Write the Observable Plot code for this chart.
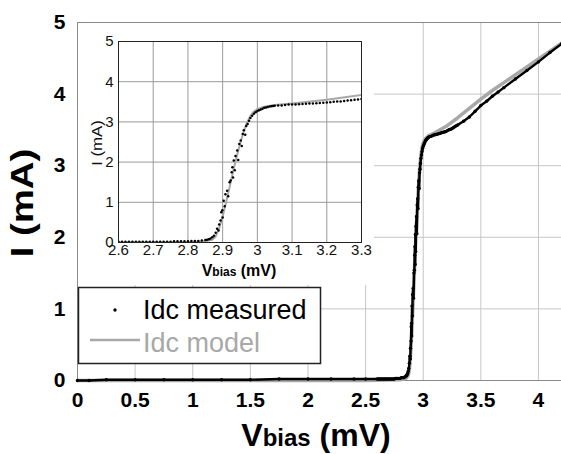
<!DOCTYPE html>
<html><head><meta charset="utf-8">
<script src="https://cdn.jsdelivr.net/npm/d3@7"></script>
<script src="https://cdn.jsdelivr.net/npm/@observablehq/plot@0.6"></script>
<style>
body{margin:0;background:#fff;}
#wrap{position:relative;width:561px;height:454px;overflow:hidden;font-family:"Liberation Sans",Arial,sans-serif;}
#wrap > svg{position:absolute;}
</style></head><body><div id="wrap"></div>
<script>
// ---- data ----
// Measured Idc (mA) vs Vbias (mV)
const measV = [
  0, 0.1, 0.25, 0.5, 0.75, 1.0, 1.25, 1.5, 1.75, 2.0, 2.2, 2.4, 2.5,
  2.60, 2.61, 2.62, 2.63, 2.64, 2.65, 2.66, 2.67, 2.68, 2.69, 2.70, 2.71, 2.72, 2.73, 2.74, 2.75,
  2.76, 2.77, 2.78, 2.79, 2.80, 2.81, 2.82, 2.83, 2.84, 2.85,
  2.855, 2.86, 2.865, 2.87, 2.875, 2.88, 2.884, 2.888, 2.89, 2.894,
  2.896, 2.899, 2.9, 2.903, 2.906, 2.908, 2.913, 2.916, 2.92, 2.923,
  2.926, 2.928, 2.93, 2.932, 2.935, 2.937, 2.942, 2.945, 2.948, 2.952,
  2.955, 2.958, 2.961, 2.965, 2.968, 2.972, 2.976, 2.98, 2.985, 2.99,
  2.995, 3.0, 3.005, 3.01, 3.015, 3.02, 3.025, 3.03, 3.035, 3.04,
  3.045,
  3.05, 3.06, 3.07, 3.08, 3.09, 3.10, 3.11, 3.12, 3.13, 3.14,
  3.15, 3.16, 3.17, 3.18, 3.19, 3.20, 3.21, 3.22, 3.23, 3.24,
  3.25, 3.26, 3.27, 3.28, 3.29, 3.30,
  3.35, 3.4, 3.45, 3.5, 3.55, 3.6, 3.65, 3.7, 3.8, 3.9, 4.0, 4.1, 4.2
];
const measI = [
  0.00, 0.00, 0.01, 0.01, 0.01, 0.01, 0.01, 0.01, 0.02, 0.02, 0.02, 0.02, 0.02,
  0.02, 0.02, 0.02, 0.02, 0.02, 0.02, 0.02, 0.02, 0.02, 0.02, 0.02, 0.02, 0.02, 0.02, 0.02, 0.02,
  0.03, 0.03, 0.03, 0.03, 0.03, 0.04, 0.04, 0.04, 0.05, 0.06,
  0.07, 0.08, 0.10, 0.13, 0.17, 0.24, 0.34, 0.30, 0.45, 0.55,
  0.75, 0.80, 0.62, 1.04, 0.90, 1.20, 1.29, 1.15, 1.50, 1.54,
  1.75, 1.87, 1.62, 2.04, 1.80, 2.15, 2.29, 2.05, 2.45, 2.54,
  2.40, 2.70, 2.79, 2.68, 2.90, 2.95, 3.03, 3.10, 3.15, 3.20,
  3.24, 3.27, 3.29, 3.31, 3.33, 3.35, 3.36, 3.37, 3.38, 3.39,
  3.395,
  3.40, 3.41, 3.41, 3.42, 3.43, 3.43, 3.435, 3.44, 3.445, 3.45,
  3.455, 3.46, 3.465, 3.47, 3.475, 3.48, 3.49, 3.50, 3.505, 3.51,
  3.52, 3.53, 3.54, 3.55, 3.56, 3.57,
  3.62, 3.68, 3.76, 3.84, 3.90, 3.97, 4.03, 4.09, 4.21, 4.33, 4.45, 4.58, 4.70
];
// Model Idc
const modelV = [0, 1, 2, 2.5, 2.8, 2.85, 2.87, 2.88, 2.89, 2.9, 2.91, 2.92, 2.93, 2.94, 2.95, 2.96, 2.97, 2.98, 2.99,
  3.0, 3.02, 3.05, 3.1, 3.2, 3.3, 3.4, 3.5, 3.6, 3.7, 3.8, 3.9, 4.0, 4.1, 4.2];
const modelI = [0, 0, 0, 0, 0.01, 0.03, 0.07, 0.15, 0.35, 0.65, 1.0, 1.38, 1.76, 2.12, 2.45, 2.74, 2.98, 3.15, 3.26,
  3.32, 3.38, 3.42, 3.46, 3.55, 3.67, 3.80, 3.93, 4.05, 4.16, 4.27, 4.38, 4.49, 4.60, 4.71];

// ticks
const mainXTicks = [0, 0.5, 1, 1.5, 2, 2.5, 3, 3.5, 4];
const mainXLabels = ["0", "0.5", "1", "1.5", "2", "2.5", "3", "3.5", "4"];
const mainYTicks = [0, 1, 2, 3, 4, 5];
const mainYLabels = ["0", "1", "2", "3", "4", "5"];
const insetXTicks = [2.6, 2.7, 2.8, 2.9, 3.0, 3.1, 3.2, 3.3];
const insetXLabels = ["2.6", "2.7", "2.8", "2.9", "3", "3.1", "3.2", "3.3"];
const insetYTicks = [0, 1, 2, 3, 4, 5];
const insetYLabels = ["0", "1", "2", "3", "4", "5"];
const seriesNames = ["Idc measured", "Idc model"];

const meas = measV.map((v, k) => ({v, i: measI[k]}));
const model = modelV.map((v, k) => ({v, i: modelI[k]}));
const FONT = "Liberation Sans, Arial, sans-serif";
const lab = (ticks, labels) => d => labels[ticks.findIndex(t => Math.abs(t - d) < 1e-9)];

const wrap = document.getElementById("wrap");

const main = Plot.plot({
  width: 561, height: 454,
  marginLeft: 77, marginRight: 0, marginTop: 22, marginBottom: 74,
  style: {background: "white", fontFamily: FONT, color: "black", overflow: "visible"},
  x: {domain: [0, 4.2]},
  y: {domain: [0, 5]},
  marks: [
    Plot.gridX(mainXTicks.slice(1), {stroke: "#c6c6c6", strokeOpacity: 1}),
    Plot.gridY(mainYTicks.slice(1, 5), {stroke: "#c6c6c6", strokeOpacity: 1}),
    Plot.ruleX([0], {stroke: "#8a8a8a"}),
    Plot.ruleY([5], {stroke: "#8a8a8a"}),
    Plot.ruleY([0], {stroke: "#8a8a8a"}),
    Plot.line(model, {x: "v", y: "i", stroke: "#a8a8a8", strokeWidth: 3.5}),
    Plot.line(meas, {x: "v", y: "i", stroke: "black", strokeWidth: 2.4}),
    Plot.dot(meas, {x: "v", y: "i", r: 1.7, fill: "black", stroke: null}),
    Plot.axisX(mainXTicks, {tickSize: 0, tickPadding: 12, fontSize: 21, fontWeight: "bold", tickFormat: lab(mainXTicks, mainXLabels), label: null}),
    Plot.axisY(mainYTicks, {tickSize: 0, tickPadding: 12, fontSize: 21, fontWeight: "bold", tickFormat: lab(mainYTicks, mainYLabels), label: null})
  ]
});
main.style.left = "0px"; main.style.top = "0px";
wrap.appendChild(main);

const inset = Plot.plot({
  width: 296, height: 262,
  marginLeft: 40, marginRight: 13, marginTop: 18, marginBottom: 43,
  style: {background: "white", fontFamily: FONT, color: "#111", overflow: "visible"},
  x: {domain: [2.6, 3.3]},
  y: {domain: [0, 5]},
  marks: [
    Plot.gridX(insetXTicks, {stroke: "#9a9a9a", strokeOpacity: 1}),
    Plot.gridY(insetYTicks, {stroke: "#9a9a9a", strokeOpacity: 1}),
    Plot.line(model, {x: "v", y: "i", stroke: "#a8a8a8", strokeWidth: 2, clip: true}),
    Plot.dot(meas, {x: "v", y: "i", r: 1.25, fill: "black", stroke: null, clip: true}),
    Plot.frame({stroke: "#222"}),
    Plot.axisX(insetXTicks, {tickSize: 0, tickPadding: 2, fontSize: 15, tickFormat: lab(insetXTicks, insetXLabels), label: null}),
    Plot.axisY(insetYTicks, {tickSize: 0, tickPadding: 5, fontSize: 15, tickFormat: lab(insetYTicks, insetYLabels), label: null})
  ]
});
inset.style.left = "78px"; inset.style.top = "23px";
wrap.appendChild(inset);

// titles and legend overlay
const ns = "http://www.w3.org/2000/svg";
const ov = document.createElementNS(ns, "svg");
ov.setAttribute("width", 561); ov.setAttribute("height", 454);
ov.style.left = "0px"; ov.style.top = "0px";
ov.setAttribute("font-family", FONT);
ov.innerHTML = `
  <text x="316" y="446" text-anchor="middle" font-size="32" font-weight="bold">V<tspan font-size="24">bias</tspan> (mV)</text>
  <text transform="translate(33,203) rotate(-90) scale(1.2,1)" text-anchor="middle" font-size="32" font-weight="bold">I (mA)</text>
  <text x="239" y="276" text-anchor="middle" font-size="16" font-weight="bold">V<tspan font-size="12">bias</tspan> (mV)</text>
  <text transform="translate(102,143) rotate(-90) scale(1.2,1)" text-anchor="middle" font-size="14" fill="#111">I (mA)</text>
  <rect x="78.5" y="287.5" width="242" height="76" fill="white" stroke="#222" stroke-width="1.5"></rect>
  <circle cx="115" cy="310" r="1.7" fill="black"></circle>
  <line x1="90" y1="340" x2="140" y2="340" stroke="#a8a8a8" stroke-width="2.5"></line>
  <text x="143" y="319" font-size="27" fill="black">${seriesNames[0]}</text>
  <text x="143" y="352" font-size="27" fill="#a8a8a8">${seriesNames[1]}</text>
`;
wrap.appendChild(ov);
</script></body></html>
